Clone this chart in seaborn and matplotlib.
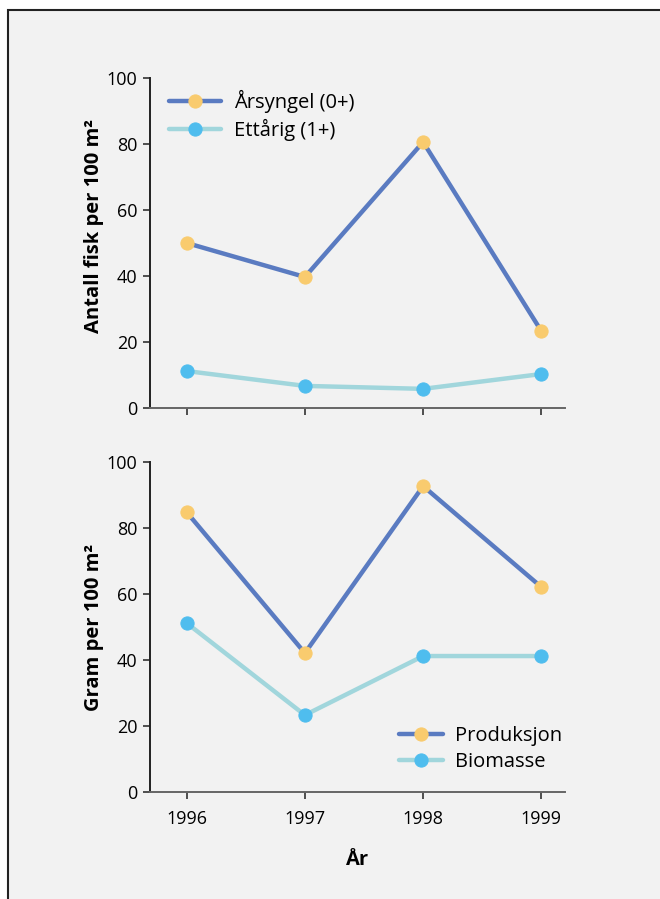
import pandas as pd
import seaborn as sns
import matplotlib.pyplot as plt
from matplotlib.patches import Rectangle

# data
years = [1996, 1997, 1998, 1999]
arsyngel = [50.0, 39.7, 80.6, 23.3]
ettarig = [11.2, 6.7, 5.8, 10.3]
produksjon = [84.8, 42.1, 92.7, 62.1]
biomasse = [51.2, 23.3, 41.2, 41.2]

DARK_LINE = '#5a7bc1'
DARK_MARK = '#f9cb6e'
LIGHT_LINE = '#a1d6dc'
LIGHT_MARK = '#4fbdee'
PANEL = '#f2f2f2'

sns.set_theme(style='ticks')
plt.rcParams['font.family'] = ['Open Sans', 'DejaVu Sans']
plt.rcParams['axes.edgecolor'] = '#333333'
plt.rcParams['xtick.color'] = '#333333'
plt.rcParams['ytick.color'] = '#333333'
plt.rcParams['xtick.labelcolor'] = '#000000'
plt.rcParams['ytick.labelcolor'] = '#000000'
plt.rcParams['text.color'] = '#000000'
plt.rcParams['axes.labelcolor'] = '#000000'


def draw_series(ax, values, label, line_c, mark_c):
    df = pd.DataFrame({'year': years, 'value': values})
    sns.lineplot(data=df, x='year', y='value', ax=ax, label=label,
                 color=line_c, linewidth=3.2, marker='o', markersize=9.5,
                 markerfacecolor=mark_c, markeredgecolor=mark_c, zorder=3)


def style_axis(ax, ylabel, show_xlabels, label_y=0.5):
    ax.set_facecolor('none')
    ax.set_xlim(1995.69, 1999.2)
    ax.set_ylim(0, 100)
    ax.set_yticks([0, 20, 40, 60, 80, 100])
    ax.set_xticks(years)
    if show_xlabels:
        ax.set_xticklabels([str(y) for y in years])
        ax.set_xlabel('År', fontsize=14.5, fontweight='bold', labelpad=16)
    else:
        ax.set_xticklabels([])
        ax.set_xlabel('')
    ax.set_ylabel(ylabel, fontsize=14.5, fontweight='bold', labelpad=5)
    ax.yaxis.set_label_coords(-0.11, label_y)
    ax.tick_params(axis='both', labelsize=13, length=5, width=1.2, pad=4)
    ax.tick_params(axis='x', pad=8)
    for side in ['top', 'right']:
        ax.spines[side].set_visible(False)
    for side in ['left', 'bottom']:
        ax.spines[side].set_linewidth(1.4)
    ax.spines['left'].set_color('#222222')
    ax.spines['bottom'].set_color('#666666')


fig = plt.figure(figsize=(6.6, 8.99), dpi=100)
fig.patch.set_facecolor('white')
panel = Rectangle((8 / 660, -0.05), 1.1, 1.05 - 10 / 899, transform=fig.transFigure,
                  facecolor=PANEL, edgecolor='#222222', linewidth=1.5, zorder=-10)
fig.add_artist(panel)

ax1 = fig.add_axes([150 / 660, 1 - 408 / 899, 415 / 660, 330 / 899])
ax2 = fig.add_axes([150 / 660, 1 - 792 / 899, 415 / 660, 330 / 899])

legend_kw = dict(frameon=False, fontsize=14.5, handletextpad=0.6,
                 labelspacing=0.3, borderpad=0, borderaxespad=0)

draw_series(ax1, arsyngel, 'Årsyngel (0+)', DARK_LINE, DARK_MARK)
draw_series(ax1, ettarig, 'Ettårig (1+)', LIGHT_LINE, LIGHT_MARK)
style_axis(ax1, 'Antall fisk per 100 m²', False, label_y=0.55)
ax1.legend(loc='upper left', bbox_to_anchor=(0.046, 0.965), handlelength=2.6, **legend_kw)

draw_series(ax2, produksjon, 'Produksjon', DARK_LINE, DARK_MARK)
draw_series(ax2, biomasse, 'Biomasse', LIGHT_LINE, LIGHT_MARK)
style_axis(ax2, 'Gram per 100 m²', True)
ax2.legend(loc='lower right', bbox_to_anchor=(0.993, 0.06), handlelength=2.2, **legend_kw)

fig.savefig('out.png', dpi=100, facecolor=fig.get_facecolor())
